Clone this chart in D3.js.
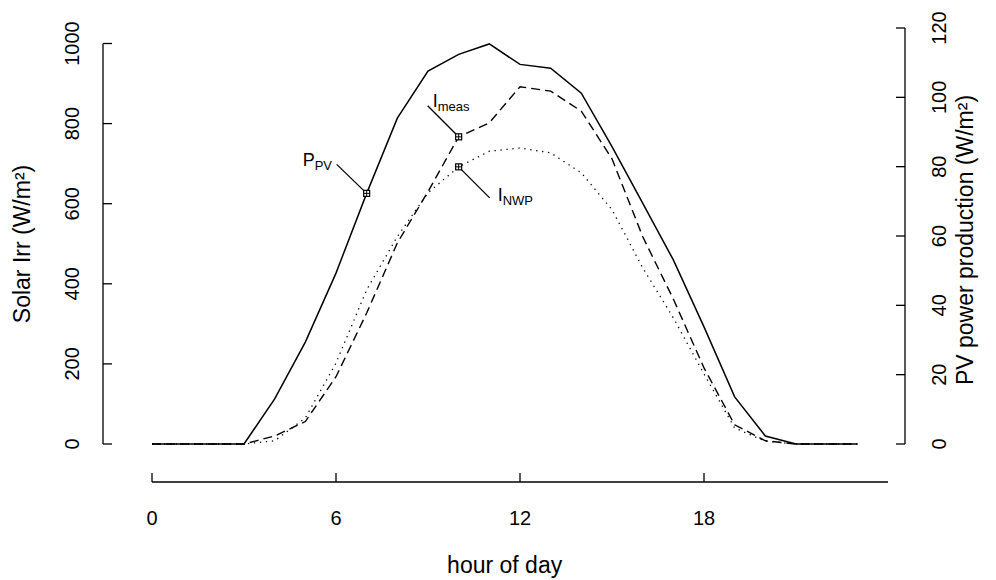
<!DOCTYPE html>
<html>
<head>
<meta charset="utf-8">
<script src="https://cdn.jsdelivr.net/npm/d3@7"></script>
<style>
  html, body { margin: 0; padding: 0; background: #fff; }
  svg text { font-family: "Liberation Sans", Arial, Helvetica, sans-serif; fill: #000; }
</style>
</head>
<body>
<svg id="chart" width="996" height="580"></svg>
<script>
// ---- data ----
const hours = [0,1,2,3,4,5,6,7,8,9,10,11,12,13,14,15,16,17,18,19,20,21,22,23];
const pvPower = [0,0,0,0,13.0,29.4,49.3,72.3,94.0,107.6,112.4,115.4,109.5,108.4,101.2,85.8,69.5,53.1,33.8,13.6,2.3,0,0,0];
const irrMeas = [0,0,0,0,20,56,168,327,502,630,767,802,892,881,831,712,518,362,190,48,8,0,0,0];
const irrNWP  = [0,0,0,0,8,65,202,385,518,627,692,731,739,727,677,585,440,315,175,40,7,0,0,0];
const xTicks = [0,6,12,18];
const leftTicks = [0,200,400,600,800,1000];
const rightTicks = [0,20,40,60,80,100,120];
const xTitle = "hour of day";
const leftTitle = "Solar Irr (W/m²)";
const rightTitle = "PV power production (W/m²)";
// annotations: series, hour index, main text, subscript
const annotations = [
  {series: "pv",   hour: 7,  main: "P", sub: "PV"},
  {series: "meas", hour: 10, main: "I", sub: "meas"},
  {series: "nwp",  hour: 10, main: "I", sub: "NWP"}
];

// ---- scales ----
const svg = d3.select("#chart");
svg.append("rect").attr("width", 996).attr("height", 580).attr("fill", "#fff");

const x = d3.scaleLinear().domain([0, 24]).range([152, 888]);
const yL = d3.scaleLinear().domain([0, 1000]).range([444, 43.5]);
const yR = d3.scaleLinear().domain([0, 120]).range([444, 28]);

const tickFont = 20;
const titleFont = 23;

// ---- axes ----
// bottom
const xAxisY = 482;
svg.append("line").attr("x1", x(0)).attr("x2", x(24)).attr("y1", xAxisY).attr("y2", xAxisY)
  .attr("stroke", "#000").attr("stroke-width", 1.3);
xTicks.forEach(t => {
  svg.append("line").attr("x1", x(t)).attr("x2", x(t)).attr("y1", xAxisY).attr("y2", xAxisY - 9)
    .attr("stroke", "#000").attr("stroke-width", 1.3);
  svg.append("text").attr("x", x(t)).attr("y", 525).attr("text-anchor", "middle")
    .attr("font-size", tickFont).text(t);
});
svg.append("text").attr("x", x(11.5)).attr("y", 573).attr("text-anchor", "middle")
  .attr("font-size", titleFont).text(xTitle);

// left
const leftX = 103;
svg.append("line").attr("x1", leftX).attr("x2", leftX).attr("y1", yL(0)).attr("y2", yL(1000))
  .attr("stroke", "#000").attr("stroke-width", 1.3);
leftTicks.forEach(t => {
  svg.append("line").attr("x1", leftX).attr("x2", leftX + 9).attr("y1", yL(t)).attr("y2", yL(t))
    .attr("stroke", "#000").attr("stroke-width", 1.3);
  svg.append("text").attr("transform", `translate(${79},${yL(t)}) rotate(-90)`)
    .attr("text-anchor", "middle").attr("font-size", tickFont).text(t);
});
svg.append("text").attr("transform", `translate(${30},${244}) rotate(-90)`)
  .attr("text-anchor", "middle").attr("font-size", titleFont).text(leftTitle);

// right
const rightX = 905;
svg.append("line").attr("x1", rightX).attr("x2", rightX).attr("y1", yR(0)).attr("y2", yR(120))
  .attr("stroke", "#000").attr("stroke-width", 1.3);
rightTicks.forEach(t => {
  svg.append("line").attr("x1", rightX).attr("x2", rightX - 9).attr("y1", yR(t)).attr("y2", yR(t))
    .attr("stroke", "#000").attr("stroke-width", 1.3);
  svg.append("text").attr("transform", `translate(${946},${yR(t)}) rotate(-90)`)
    .attr("text-anchor", "middle").attr("font-size", tickFont).text(t);
});
svg.append("text").attr("transform", `translate(${973},${240}) rotate(-90)`)
  .attr("text-anchor", "middle").attr("font-size", titleFont).text(rightTitle);

// ---- lines ----
const linePV = d3.line().x((d, i) => x(hours[i])).y(d => yR(d));
const lineL = d3.line().x((d, i) => x(hours[i])).y(d => yL(d));

svg.append("path").attr("d", lineL(irrNWP)).attr("fill", "none").attr("stroke", "#000")
  .attr("stroke-width", 1.3).attr("stroke-dasharray", "1.3,4.7");
svg.append("path").attr("d", lineL(irrMeas)).attr("fill", "none").attr("stroke", "#000")
  .attr("stroke-width", 1.4).attr("stroke-dasharray", "9,5");
svg.append("path").attr("d", linePV(pvPower)).attr("fill", "none").attr("stroke", "#000")
  .attr("stroke-width", 1.5);

// ---- annotations ----
function pointOf(a) {
  if (a.series === "pv") return [x(hours[a.hour]), yR(pvPower[a.hour])];
  if (a.series === "meas") return [x(hours[a.hour]), yL(irrMeas[a.hour])];
  return [x(hours[a.hour]), yL(irrNWP[a.hour])];
}
// label offsets relative to marker (layout only)
const labelLayout = {
  pv:   {lx: -30, ly: -29, tx: -64, ty: -27},
  meas: {lx: -31, ly: -31, tx: -26, ty: -30},
  nwp:  {lx: 31, ly: 31, tx: 39, ty: 34}
};
annotations.forEach(a => {
  const [px, py] = pointOf(a);
  const L = labelLayout[a.series];
  svg.append("line").attr("x1", px).attr("y1", py).attr("x2", px + L.lx).attr("y2", py + L.ly)
    .attr("stroke", "#000").attr("stroke-width", 1.3);
  const s = 6;
  svg.append("rect").attr("x", px - s/2).attr("y", py - s/2).attr("width", s).attr("height", s)
    .attr("fill", "#fff").attr("stroke", "#000").attr("stroke-width", 1.2);
  svg.append("line").attr("x1", px - s/2).attr("x2", px + s/2).attr("y1", py).attr("y2", py)
    .attr("stroke", "#000").attr("stroke-width", 1);
  svg.append("line").attr("x1", px).attr("x2", px).attr("y1", py - s/2).attr("y2", py + s/2)
    .attr("stroke", "#000").attr("stroke-width", 1);
  const t = svg.append("text").attr("x", px + L.tx).attr("y", py + L.ty).attr("font-size", 18);
  t.append("tspan").text(a.main);
  t.append("tspan").attr("dy", 4).attr("font-size", 13).text(a.sub);
});
</script>
</body>
</html>
